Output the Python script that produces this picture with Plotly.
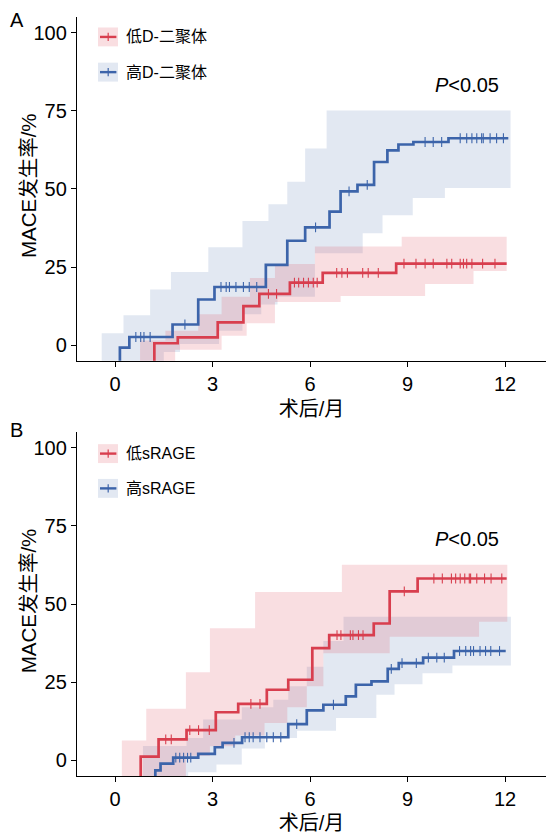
import plotly.graph_objects as go

# ---------------- DATA ----------------
months_ticks = [0, 3, 6, 9, 12]
y_ticks = [0, 25, 50, 75, 100]

# Panel A: D-dimer
a_low_name = "低D-二聚体"
a_high_name = "高D-二聚体"
a_low_t = [1.21, 1.93, 3.16, 3.95, 4.44, 5.38, 6.39, 8.65]
a_low_v = [0.6, 2.5, 7.3, 12.5, 16.4, 20.0, 23.1, 26.1]
a_low_end = 12.05
a_low_cens_t = [4.72, 4.97, 5.52, 5.65, 5.8, 5.95, 6.1, 6.22,
                6.82, 6.98, 7.15, 7.62, 7.79, 8.1,
                8.89, 9.26, 9.54, 9.79, 10.21, 10.36, 10.62, 10.72, 10.82, 10.98, 11.31, 11.69]
a_high_t = [0.15, 0.44, 1.77, 2.56, 3.06, 4.64, 5.3, 5.85, 6.6, 6.94, 7.46, 7.97, 8.38, 8.72, 9.18, 10.26]
a_high_v = [-0.8, 2.6, 6.6, 14.6, 18.6, 25.7, 33.4, 37.7, 42.7, 49.2, 51.3, 58.6, 62.3, 64.2, 65.0, 66.2]
a_high_end = 12.1
a_high_cens_t = [0.64, 0.79, 0.89, 1.08, 2.15,
                 3.26, 3.42, 3.52, 3.72, 3.95, 4.13, 4.36,
                 6.17, 7.2, 7.76, 9.54, 9.79, 10.05,
                 10.62, 10.82, 10.98, 11.13, 11.28, 11.33, 11.54, 11.74, 11.95]
a_low_ci_t = [0.77, 1.55, 1.85, 2.56, 3.28, 4.05, 4.15, 4.92, 6.15, 6.94, 8.82, 9.54, 11.03]
a_low_ci_up = [1.5, 4.6, 4.6, 9.9, 15.5, 15.5, 21.5, 26.0, 31.6, 31.6, 34.7, 34.7, 34.7]
a_low_ci_lo = [-9, -9, -1.5, -1.5, 3.0, 7.0, 7.0, 13.8, 13.8, 15.7, 15.7, 19.6, 23.7]
a_low_ci_end = 12.05
a_high_ci_t = [-0.41, 0.26, 1.08, 1.5, 1.72, 2.0, 2.87, 3.2, 3.92, 4.5, 4.72, 5.0, 5.3, 5.85, 6.15, 6.51, 7.62, 8.23, 9.16, 10.15]
a_high_ci_up = [3.8, 9.6, 17.8, 17.8, 23.4, 23.4, 31.3, 31.3, 39.7, 39.7, 45.1, 45.1, 52.3, 62.9, 62.9, 75.1, 75.1, 75.1, 75.1, 75.1]
a_high_ci_lo = [-9, -9, -9, -2.2, -2.2, 0.4, 0.4, 4.6, 9.9, 13.0, 13.0, 15.5, 15.5, 15.5, 29.4, 29.4, 35.8, 41.6, 47.1, 50.3]
a_high_ci_end = 12.17

# Panel B: sRAGE
b_low_name = "低sRAGE"
b_high_name = "高sRAGE"
b_low_t = [0.79, 1.34, 2.2, 3.1, 3.79, 4.67, 5.33, 6.07, 6.59, 7.96, 8.45, 9.31]
b_low_v = [1.2, 6.7, 9.7, 15.4, 18.1, 22.6, 25.8, 35.9, 40.1, 43.8, 54.1, 58.2]
b_low_end = 12.05
b_low_cens_t = [1.56, 1.73, 2.3, 2.57, 2.9, 4.18, 4.46,
                6.83, 6.95, 7.24, 7.32, 7.49, 7.63, 8.9,
                9.81, 10.07, 10.35, 10.48, 10.62, 10.76, 10.9, 10.94, 11.13, 11.37, 11.57, 11.9]
b_high_t = [1.24, 1.4, 1.79, 2.56, 3.07, 3.31, 3.91, 5.33, 5.9, 6.41, 7.1, 7.41, 7.89, 8.39, 8.73, 9.48, 10.43]
b_high_v = [-3.2, -1.05, 0.85, 2.1, 4.2, 5.6, 7.4, 11.6, 16.0, 17.8, 20.5, 24.2, 25.3, 29.3, 31.1, 32.9, 35.0]
b_high_end = 12.02
b_high_cens_t = [1.87, 1.99, 2.11, 2.23, 2.33, 3.66,
                 4.0, 4.13, 4.25, 4.46, 4.67, 4.87, 5.1, 5.59, 6.72, 8.5,
                 8.83, 9.27, 9.64, 9.9, 10.13,
                 10.6, 10.79, 10.94, 11.03, 11.23, 11.4, 11.56, 11.83]
b_low_ci_t = [0.21, 0.96, 2.18, 2.92, 3.7, 4.31, 4.6, 5.3, 5.9, 6.41, 6.98, 8.45, 11.2]
b_low_ci_up = [6.4, 16.5, 28.2, 42.3, 42.3, 53.9, 53.9, 53.9, 53.9, 53.9, 62.6, 62.6, 62.6]
b_low_ci_lo = [-9, -9, 1.5, 4.5, 8.0, 8.0, 12.0, 17.0, 23.7, 34.3, 34.3, 39.6, 44.4]
b_low_ci_end = 12.07
b_high_ci_t = [0.86, 2.2, 2.25, 2.71, 3.12, 3.9, 4.61, 4.87, 5.33, 5.6, 5.9, 6.41, 6.8, 7.03, 8.04, 8.6, 9.46, 10.38]
b_high_ci_up = [4.6, 7.2, 7.2, 13.1, 13.1, 17.0, 17.0, 19.4, 23.7, 23.7, 30.0, 38.2, 38.2, 46.0, 46.0, 46.0, 46.0, 46.0]
b_high_ci_lo = [-9, -9, -3.8, -3.8, -1.3, 3.8, 7.2, 7.2, 7.2, 9.5, 9.5, 9.5, 13.6, 13.6, 21.0, 24.4, 27.9, 30.4]
b_high_ci_end = 12.18

p_text = "<i>P</i>&lt;0.05"
x_title = "术后/月"
y_title = "MACE发生率/%"

# ---------------- STYLE ----------------
RED = "rgb(216,62,78)"
BLUE = "rgb(60,100,170)"
RED_FILL = "rgba(222,70,86,0.18)"
BLUE_FILL = "rgba(60,100,170,0.15)"
FONT = "Liberation Sans, Arial, Noto Sans CJK SC, sans-serif"


def band_xy(t, up, lo, t_end):
    xs, ys = [], []
    n = len(t)
    for i in range(n):
        t1 = t[i + 1] if i + 1 < n else t_end
        xs += [t[i], t1]
        ys += [up[i], up[i]]
    for i in reversed(range(n)):
        t1 = t[i + 1] if i + 1 < n else t_end
        xs += [t1, t[i]]
        ys += [lo[i], lo[i]]
    return xs, ys


def value_at(t, v, x):
    val = v[0]
    for ti, vi in zip(t, v):
        if x >= ti:
            val = vi
    return val


fig = go.Figure()


def add_panel(xa, ya, bands, curves):
    for (t, up, lo, te, fillc) in bands:
        bx, by = band_xy(t, up, lo, te)
        fig.add_trace(go.Scatter(x=bx, y=by, fill="toself", fillcolor=fillc,
                                 line=dict(width=0), mode="lines", hoverinfo="skip",
                                 showlegend=False, xaxis=xa, yaxis=ya))
    for (t, v, te, ct, col) in curves:
        xs = [t[0]] + t + [te]
        ys = [-9] + v + [v[-1]]
        fig.add_trace(go.Scatter(x=xs, y=ys, mode="lines", line=dict(color=col, width=2.7, shape="hv"),
                                 showlegend=False, xaxis=xa, yaxis=ya))
        cy = [value_at(t, v, c) for c in ct]
        fig.add_trace(go.Scatter(x=ct, y=cy, mode="markers",
                                 marker=dict(symbol="line-ns", size=7, line=dict(color=col, width=1.1)),
                                 showlegend=False, xaxis=xa, yaxis=ya))


add_panel("x", "y",
          [(a_high_ci_t, a_high_ci_up, a_high_ci_lo, a_high_ci_end, BLUE_FILL),
           (a_low_ci_t, a_low_ci_up, a_low_ci_lo, a_low_ci_end, RED_FILL)],
          [(a_high_t, a_high_v, a_high_end, a_high_cens_t, BLUE),
           (a_low_t, a_low_v, a_low_end, a_low_cens_t, RED)])
add_panel("x2", "y2",
          [(b_high_ci_t, b_high_ci_up, b_high_ci_lo, b_high_ci_end, BLUE_FILL),
           (b_low_ci_t, b_low_ci_up, b_low_ci_lo, b_low_ci_end, RED_FILL)],
          [(b_high_t, b_high_v, b_high_end, b_high_cens_t, BLUE),
           (b_low_t, b_low_v, b_low_end, b_low_cens_t, RED)])

axis_common = dict(showline=True, linecolor="black", linewidth=1.3, ticks="outside",
                   ticklen=5, tickwidth=1.2, tickcolor="black", showgrid=False, zeroline=False,
                   tickfont=dict(family=FONT, size=20, color="black"))
xrange = [-1.17, 13.26]
yrange = [-5, 105]

fig.update_layout(
    width=548, height=834,
    margin=dict(l=77, r=2, t=17, b=53),
    plot_bgcolor="white", paper_bgcolor="white",
    xaxis=dict(domain=[0, 1], anchor="y", range=xrange, tickvals=months_ticks,
               title=dict(text=x_title, font=dict(family=FONT, size=20, color="black"), standoff=8),
               **axis_common),
    yaxis=dict(domain=[0.5471, 1], anchor="x", range=yrange, tickvals=y_ticks, **axis_common),
    xaxis2=dict(domain=[0, 1], anchor="y2", range=xrange, tickvals=months_ticks,
                title=dict(text=x_title, font=dict(family=FONT, size=20, color="black"), standoff=8),
                **axis_common),
    yaxis2=dict(domain=[0, 0.4529], anchor="x2", range=yrange, tickvals=y_ticks, **axis_common),
    showlegend=False,
)

# legend symbols (shapes) and labels
shapes = []
annotations = []
legend_rows = [
    ("x domain", "y domain", 0.942, RED, RED_FILL, a_low_name),
    ("x domain", "y domain", 0.8396, BLUE, BLUE_FILL, a_high_name),
    ("x2 domain", "y2 domain", 0.9379, RED, RED_FILL, b_low_name),
    ("x2 domain", "y2 domain", 0.8367, BLUE, BLUE_FILL, b_high_name),
]
for xr, yr, yc, col, fillc, name in legend_rows:
    shapes.append(dict(type="rect", xref=xr, yref=yr, x0=0.0448, x1=0.0874, y0=yc - 0.0275, y1=yc + 0.0275,
                       fillcolor=fillc, line=dict(width=0), layer="above"))
    shapes.append(dict(type="line", xref=xr, yref=yr, x0=0.049, x1=0.084, y0=yc, y1=yc,
                       line=dict(color=col, width=2.4), layer="above"))
    shapes.append(dict(type="line", xref=xr, yref=yr, x0=0.0665, x1=0.0665, y0=yc - 0.012, y1=yc + 0.012,
                       line=dict(color=col, width=1.2), layer="above"))
    annotations.append(dict(xref=xr, yref=yr, x=0.1002, y=yc, text=name, showarrow=False,
                            xanchor="left", yanchor="middle",
                            font=dict(family=FONT, size=16, color="black")))

for xr, yr, yy in [("x domain", "y domain", 0.8035), ("x2 domain", "y2 domain", 0.688)]:
    annotations.append(dict(xref=xr, yref=yr, x=0.759, y=yy, text=p_text, showarrow=False,
                            xanchor="left", yanchor="middle",
                            font=dict(family=FONT, size=20, color="black")))

# y-axis titles
for xr, yr in [("x domain", "y domain"), ("x2 domain", "y2 domain")]:
    annotations.append(dict(xref=xr, yref=yr, x=-0.1045, y=0.511, text=y_title, showarrow=False,
                            textangle=-90, xanchor="center", yanchor="middle",
                            font=dict(family=FONT, size=20.5, color="black")))

annotations.append(dict(xref="paper", yref="paper", x=-0.147, y=0.996, text="A", showarrow=False,
                        xanchor="left", yanchor="middle", font=dict(family=FONT, size=20, color="black")))
annotations.append(dict(xref="paper", yref="paper", x=-0.147, y=0.4555, text="B", showarrow=False,
                        xanchor="left", yanchor="middle", font=dict(family=FONT, size=20, color="black")))

fig.update_layout(shapes=shapes, annotations=annotations)

fig.write_html("out.html")
